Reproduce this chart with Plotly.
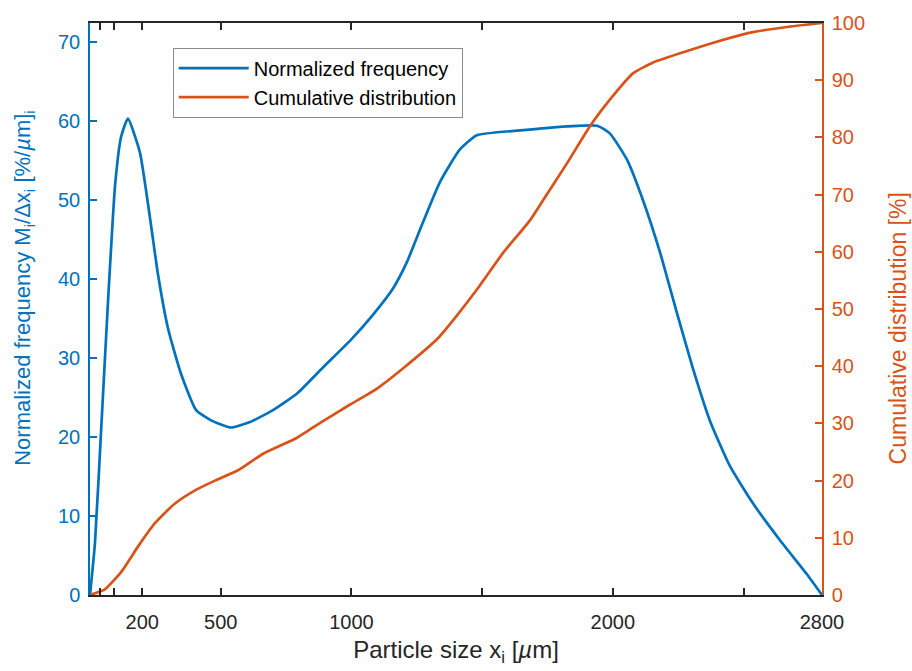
import plotly.graph_objects as go

# Normalized frequency (left axis)
freq_x = [0, 19, 42, 69, 96, 119, 145, 191, 230, 260, 298, 348, 406, 463, 539, 612, 700, 792, 891,
          995, 1083, 1159, 1213, 1274, 1339, 1415, 1480, 1645, 1772, 1940, 1989, 2054, 2116, 2181,
          2245, 2307, 2372, 2448, 2536, 2640, 2743, 2800]
freq_y = [0, 6.6, 20.5, 37.2, 51.9, 58.0, 60.3, 56.0, 47.6, 40.6, 33.8, 28.0, 23.4, 22.1, 21.2, 21.9,
          23.4, 25.5, 28.8, 32.2, 35.5, 38.8, 42.2, 47.2, 52.3, 56.4, 58.2, 58.8, 59.2, 59.4, 58.4,
          55.1, 49.9, 43.3, 35.7, 28.6, 22.0, 16.3, 11.6, 6.9, 2.6, 0]

# Cumulative distribution (right axis)
cum_x = [0, 57, 119, 184, 249, 325, 402, 478, 566, 662, 792, 891, 995, 1098, 1197, 1327, 1404,
         1480, 1580, 1683, 1733, 1825, 1913, 2001, 2077, 2154, 2284, 2410, 2536, 2666, 2800]
cum_y = [0, 1.0, 4.0, 8.5, 12.6, 16.0, 18.3, 20.0, 21.8, 24.7, 27.5, 30.4, 33.3, 36.1, 39.6, 44.7,
         48.9, 53.4, 59.8, 65.5, 69.0, 75.5, 82.0, 87.3, 91.2, 93.1, 95.1, 96.9, 98.4, 99.3, 100]

x_tickvals = [40, 90, 200, 500, 1000, 1500, 2000, 2500, 2800]
x_ticktext = ["", "", "200", "500", "1000", "", "2000", "", "2800"]
y1_ticks = [0, 10, 20, 30, 40, 50, 60, 70]
y2_ticks = [0, 10, 20, 30, 40, 50, 60, 70, 80, 90, 100]

y1_title = "Normalized frequency M<sub>i</sub>/Δx<sub>i</sub> [%/<i>µ</i>m]<sub>i</sub>"
y2_title = "Cumulative distribution [%]"
x_title = "Particle size x<sub>i</sub> [<i>µ</i>m]"

BLUE = "#0072BD"
ORANGE = "#D95319"
DARK = "#262626"
FONT = "Arial, Liberation Sans, sans-serif"

fig = go.Figure()
fig.add_trace(go.Scatter(x=freq_x, y=freq_y, mode="lines", name="Normalized frequency",
                         line=dict(color=BLUE, width=2.7, shape="spline", smoothing=0.5), yaxis="y"))
fig.add_trace(go.Scatter(x=cum_x, y=cum_y, mode="lines", name="Cumulative distribution",
                         line=dict(color=ORANGE, width=2.7, shape="spline", smoothing=0.5), yaxis="y2"))

fig.update_layout(
    width=912, height=671,
    margin=dict(l=90, r=90, t=19, b=75),
    paper_bgcolor="white", plot_bgcolor="white",
    font=dict(family=FONT, size=20, color=DARK),
    showlegend=True,
    legend=dict(x=0.113, y=0.957, xanchor="left", yanchor="top",
                bgcolor="white", bordercolor="#8c8c8c", borderwidth=1,
                itemwidth=70,
                font=dict(size=20, color="black"), tracegroupgap=0),
    xaxis=dict(range=[0, 2800], tickvals=x_tickvals, ticktext=x_ticktext,
               ticks="inside", ticklen=7, tickwidth=1.5, tickcolor=DARK,
               showline=True, linecolor=DARK, linewidth=1.5, mirror="ticks",
               showgrid=False, zeroline=False, ticklabelstandoff=8,
               tickfont=dict(size=20, color=DARK),
               title=dict(text=x_title, standoff=9, font=dict(size=24, color=DARK))),
    yaxis=dict(range=[0, 72.4], tickvals=y1_ticks,
               ticks="inside", ticklen=7, tickwidth=1.5, tickcolor=BLUE,
               showline=True, linecolor=BLUE, linewidth=1.5,
               showgrid=False, zeroline=False, ticklabelstandoff=4,
               tickfont=dict(size=20, color=BLUE)),
    yaxis2=dict(range=[0, 100], tickvals=y2_ticks, overlaying="y", side="right",
                ticks="inside", ticklen=7, tickwidth=1.5, tickcolor=ORANGE,
                showline=True, linecolor=ORANGE, linewidth=1.5,
                showgrid=False, zeroline=False, ticklabelstandoff=4,
                tickfont=dict(size=20, color=ORANGE)),
    annotations=[
        dict(text=y1_title, xref="paper", yref="paper", x=-0.0902, y=0.537,
             xanchor="center", yanchor="middle", textangle=-90, showarrow=False,
             font=dict(size=22, color=BLUE, family=FONT)),
        dict(text=y2_title, xref="paper", yref="paper", x=1.1038, y=0.466,
             xanchor="center", yanchor="middle", textangle=-90, showarrow=False,
             font=dict(size=23, color=ORANGE, family=FONT)),
    ],
)

fig.write_html("out.html")
